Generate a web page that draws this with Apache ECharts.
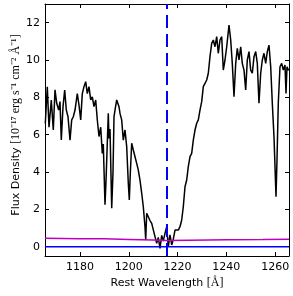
<!DOCTYPE html>
<html><head><meta charset="utf-8">
<script src="https://cdn.jsdelivr.net/npm/echarts@6/dist/echarts.min.js"></script>
<style>html,body{margin:0;padding:0;background:#fff}#c{width:293px;height:296px}</style>
</head><body><div id="c"></div>
<script>
// Spectrum (rest wavelength in Angstrom, flux in 1e-17 erg/s/cm2/A)
const wave = [1165.79,1166.61,1167.31,1168.25,1169.07,1169.77,1170.47,1171.28,1171.82,1172.35,1173.05,1173.74,1174.40,1175.10,1175.92,1176.61,1177.27,1177.97,1178.91,1179.60,1180.30,1180.96,1181.65,1182.35,1183.01,1183.70,1184.40,1185.06,1185.75,1186.45,1187.10,1187.80,1188.50,1189.15,1189.56,1190.26,1190.67,1191.61,1191.90,1192.31,1193.01,1193.54,1193.95,1194.36,1195.06,1195.47,1196.00,1196.41,1197.10,1197.76,1198.46,1199.15,1199.81,1200.22,1200.63,1201.20,1201.86,1202.56,1203.25,1203.91,1204.60,1205.30,1205.96,1206.65,1206.94,1207.35,1208.01,1208.70,1209.40,1210.06,1210.75,1211.45,1212.10,1212.80,1213.50,1214.15,1214.85,1215.55,1216.20,1216.90,1217.60,1218.25,1218.95,1219.65,1220.30,1221.00,1221.69,1222.35,1223.05,1223.74,1224.40,1225.10,1225.79,1226.45,1227.15,1227.84,1228.50,1229.19,1229.89,1230.55,1231.24,1231.94,1232.60,1233.29,1233.99,1234.65,1235.34,1236.04,1236.69,1237.39,1238.09,1238.74,1239.44,1240.14,1241.08,1241.78,1242.43,1243.13,1243.83,1244.48,1245.18,1245.87,1246.53,1247.23,1247.92,1248.58,1249.28,1249.97,1250.63,1251.33,1252.02,1252.68,1253.37,1254.07,1254.73,1255.42,1256.12,1256.78,1257.47,1258.17,1258.83,1259.52,1259.93,1260.34,1260.75,1261.28,1261.98,1262.68,1263.33,1264.03,1264.44,1264.85,1265.38,1265.67];
const flux = [6.6,8.57,6.4,7.86,6.25,8.4,7.68,7.32,7.77,5.71,7.5,8.39,7.32,6.96,5.71,6.79,6.96,7.32,8.2,7.59,6.79,8.2,8.57,8.84,8.2,8.57,7.86,8.03,7.5,7.86,6.8,5.9,6.4,5.0,5.5,2.25,3.5,7.14,5.8,6.3,2.06,4.0,6.96,7.32,7.86,7.95,7.5,7.14,6.79,5.71,6.25,5.36,3.4,2.5,3.93,5.54,5.18,4.82,4.46,4.1,3.57,2.86,2.14,1.07,0.36,1.79,1.6,1.4,1.25,1.25,0.54,0.18,0.5,-0.09,0.6,0.3,0.71,1.07,0.0,0.63,0.09,0.4,0.89,0.8,0.89,1.07,1.43,2.14,3.21,3.57,4.29,4.82,5.0,5.71,6.25,6.61,6.79,7.32,7.77,8.57,8.75,8.93,9.29,10.18,10.89,11.07,10.71,11.25,10.36,11.07,11.25,9.46,10.0,10.71,11.87,11.07,9.82,8.03,9.82,10.63,10.0,10.71,9.82,9.46,8.39,10.0,10.45,9.46,9.29,10.18,10.45,9.82,7.68,9.29,10.0,10.36,9.82,10.45,10.8,9.64,7.68,5.89,4.29,2.68,4.64,7.68,9.64,9.82,9.46,9.73,8.21,9.64,9.46,9.5];
// Error spectrum (magenta)
const errWave = [1165.67,1180,1190,1200,1210,1215,1225,1240,1255,1265.67];
const errFlux = [0.45,0.43,0.42,0.39,0.36,0.33,0.35,0.37,0.38,0.40];
// Zero level (blue)
const zeroWave = [1165.67,1265.67];
const zeroFlux = [0,0];
// Lyman-alpha rest wavelength (dashed)
const lyaWave = [1215.67,1215.67];
const lyaFlux = [-0.5,13];
const xTicks = [1180,1200,1220,1240,1260];
const yTicks = [0,2,4,6,8,10,12];
const xRange = [1165.67,1265.67];
const yRange = [-0.5,13];

const zip = (a,b)=>a.map((v,i)=>[v,b[i]]);
const sans = 'DejaVu Sans';
const serif = 'Liberation Serif';
const fmt = v => String(v);
const axisCommon = (show)=>({
  type:'value', splitLine:{show:false},
  axisLine:{show:true,onZero:false,lineStyle:{color:'#000',width:1}},
  axisLabel:{show:show,color:'#000',fontSize:11,fontFamily:sans,formatter:fmt},
});
const chart = echarts.init(document.getElementById('c'),null,{renderer:'canvas'});
const xb = axisCommon(true);
Object.assign(xb,{min:xRange[0],max:xRange[1],position:'bottom',
  axisTick:{show:true,inside:true,length:4,customValues:xTicks,lineStyle:{color:'#000'}},
  axisLabel:Object.assign(xb.axisLabel,{customValues:xTicks,margin:6}),
  name:'{a|Rest Wavelength }{b|[Å]}',nameLocation:'middle',nameGap:21,nameMoveOverlap:false,
  nameTextStyle:{rich:{a:{fontFamily:sans,fontSize:11,color:'#000'},b:{fontFamily:serif,fontSize:12,color:'#000'}}}});
const xt = axisCommon(false);
Object.assign(xt,{min:xRange[0],max:xRange[1],position:'top',
  axisTick:{show:true,inside:true,length:4,customValues:xTicks,lineStyle:{color:'#000'}}});
const yl = axisCommon(true);
Object.assign(yl,{min:yRange[0],max:yRange[1],position:'left',
  axisTick:{show:true,inside:true,length:4,customValues:yTicks,lineStyle:{color:'#000'}},
  axisLabel:Object.assign(yl.axisLabel,{customValues:yTicks,margin:5}),
  name:'{a|Flux Density }{s|[10⁻¹⁷ erg s⁻¹ cm⁻² Å⁻¹]}',
  nameLocation:'middle',nameGap:23,nameMoveOverlap:false,
  nameTextStyle:{padding:[0,0,0,10],rich:{
    a:{fontFamily:sans,fontSize:11,color:'#000'},
    s:{fontFamily:serif,fontSize:12,color:'#000'}}}});
const yr = axisCommon(false);
Object.assign(yr,{min:yRange[0],max:yRange[1],position:'right',
  axisTick:{show:true,inside:true,length:4,customValues:yTicks,lineStyle:{color:'#000'}}});

chart.setOption({
  animation:false,
  grid:{left:45,right:4,top:4,bottom:40,containLabel:false,outerBoundsMode:'none'},
  xAxis:[xb,xt],
  yAxis:[yl,yr],
  series:[
    {type:'line',data:zip(wave,flux),showSymbol:false,lineStyle:{color:'#000',width:1.5},z:2},
    {type:'line',data:zip(errWave,errFlux),showSymbol:false,lineStyle:{color:'#bf00bf',width:1.5},z:3},
    {type:'line',data:zip(zeroWave,zeroFlux),showSymbol:false,lineStyle:{color:'#0000ff',width:1.5},z:3},
    {type:'line',data:zip(lyaWave,lyaFlux),showSymbol:false,lineStyle:{color:'#0000ff',width:2,type:[13,6]},z:4}
  ]
});
</script></body></html>
